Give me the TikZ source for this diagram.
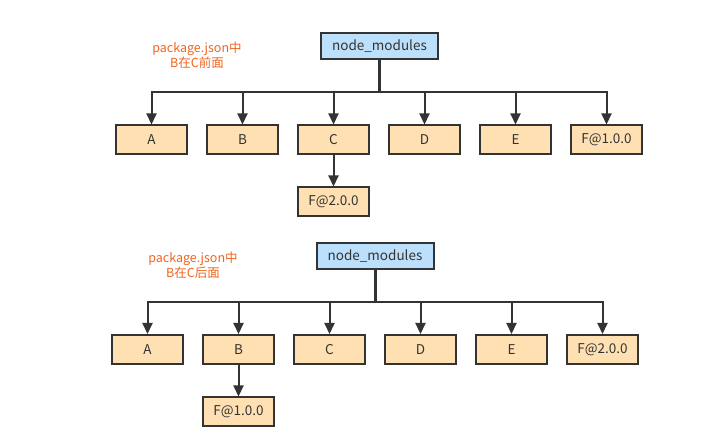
\documentclass[tikz,border=0pt]{standalone}
\usepackage{fontspec}
\setmainfont{Noto Sans CJK SC}
\usetikzlibrary{arrows.meta,calc}
\definecolor{edgec}{HTML}{333333}
\definecolor{bluef}{HTML}{BCDFFB}
\definecolor{orangef}{HTML}{FFE0B3}
\definecolor{labelc}{HTML}{F0641E}
\tikzset{
  box/.style={draw=edgec, line width=2pt, minimum width=71pt, minimum height=29pt, inner sep=0pt, fill=orangef, text=edgec, font=\fontsize{13.5}{15}\selectfont},
  rootbox/.style={box, fill=bluef, minimum width=117pt, minimum height=26pt},
  conn/.style={draw=edgec, line width=2pt, -{Triangle[length=11pt,width=10pt]}},
  stem/.style={draw=edgec, line width=3pt},
  note/.style={text=labelc, align=center, font=\fontsize{12.5}{15}\selectfont, inner sep=0pt}
}
\begin{document}
\begin{tikzpicture}[x=1pt,y=-1pt]
\useasboundingbox (0,0) rectangle (713,438);
% ---------- top diagram ----------
\node[rootbox] (nm1) at (379.5,46.5) {node\_modules};
\coordinate (bus1) at (379.5,92);
\node[box] (a1) at (151.5,140) {A};
\node[box] (b1) at (242.5,140) {B};
\node[box] (c1) at (333.5,140) {C};
\node[box] (d1) at (424.5,140) {D};
\node[box] (e1) at (515.5,140) {E};
\node[box] (f1) at (606.5,140) {F@1.0.0};
\node[box] (g1) at (333.5,202) {F@2.0.0};
\node[note] (n1) at (197,55.5) {package.json中\\B在C前面};
\foreach \t in {a1,b1,c1,d1,e1,f1}
  \draw[conn] (nm1.south) -- (bus1) -| (\t.north);
\draw[stem] (nm1.south) -- (bus1);
\draw[conn] (c1.south) -- (g1.north);
% ---------- bottom diagram ----------
\node[rootbox] (nm2) at (375,256.5) {node\_modules};
\coordinate (bus2) at (375,302);
\node[box] (a2) at (147.5,349.5) {A};
\node[box] (b2) at (238.5,349.5) {B};
\node[box] (c2) at (329.5,349.5) {C};
\node[box] (d2) at (420.5,349.5) {D};
\node[box] (e2) at (511.5,349.5) {E};
\node[box] (f2) at (602.5,349.5) {F@2.0.0};
\node[box] (g2) at (238.5,412) {F@1.0.0};
\node[note] (n2) at (193,265.5) {package.json中\\B在C后面};
\foreach \t in {a2,b2,c2,d2,e2,f2}
  \draw[conn] (nm2.south) -- (bus2) -| (\t.north);
\draw[stem] (nm2.south) -- (bus2);
\draw[conn] (b2.south) -- (g2.north);
\end{tikzpicture}
\end{document}
